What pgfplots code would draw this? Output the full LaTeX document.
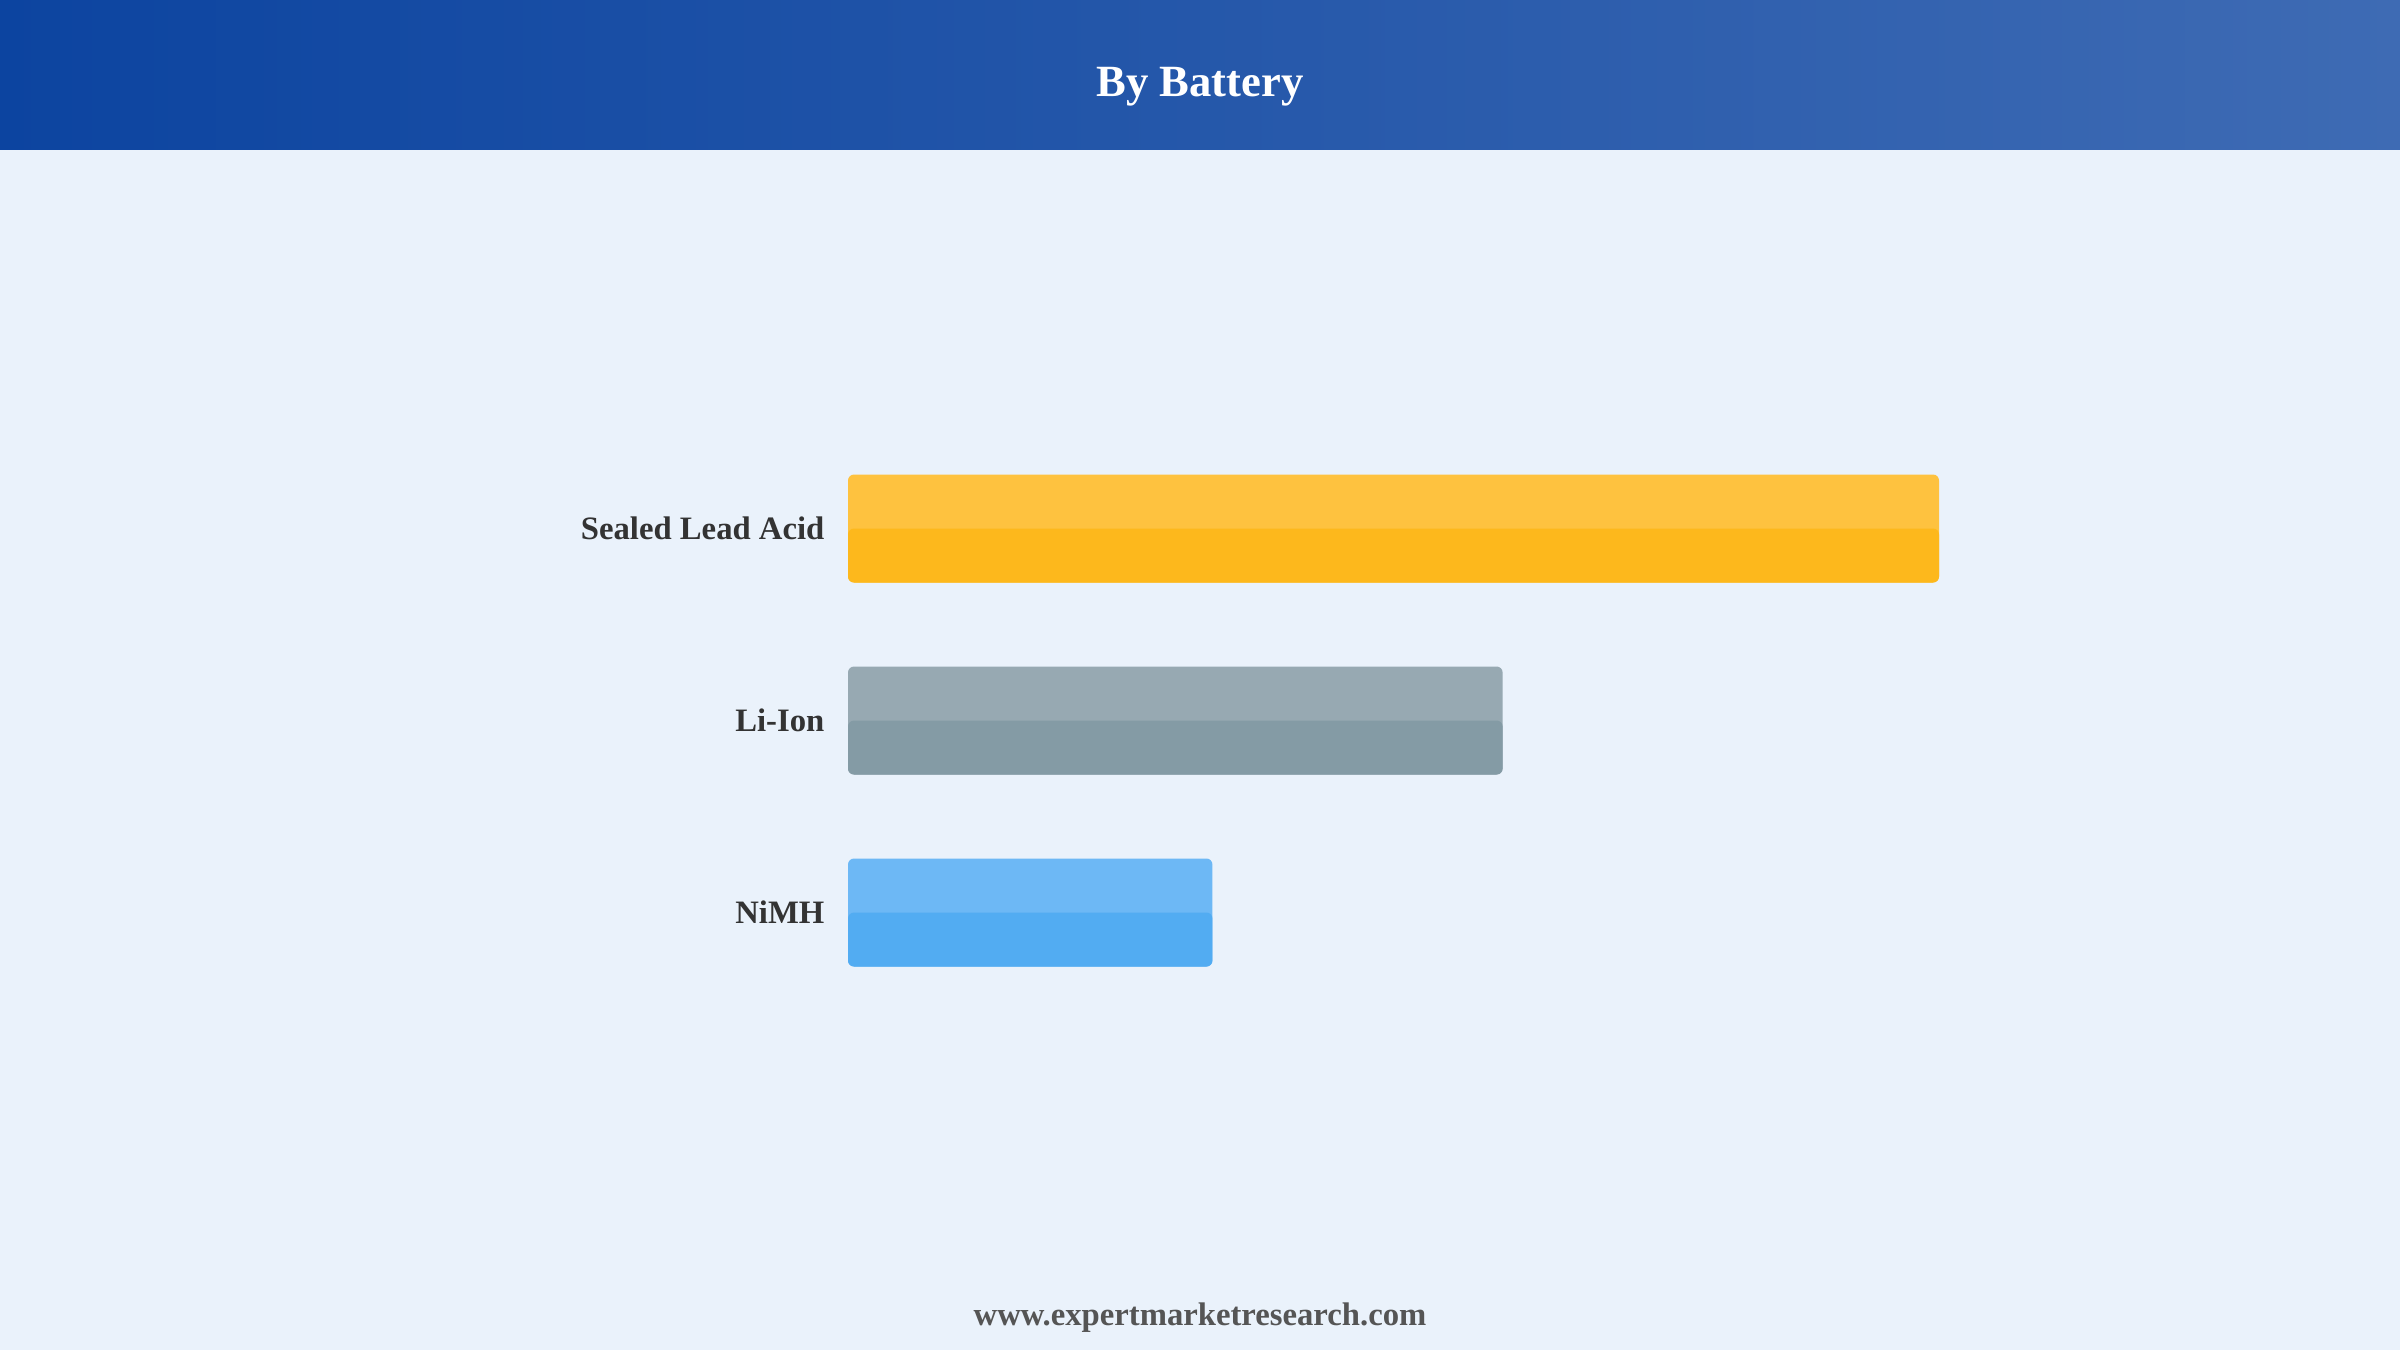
\documentclass[border=0pt]{standalone}
\usepackage{pgfplots}
\pgfplotsset{compat=1.18}
\usepackage{fontspec}
\setmainfont{Liberation Serif}
\definecolor{bgc}{HTML}{EAF2FB}
\definecolor{hdl}{HTML}{0C44A0}
\definecolor{hdr}{HTML}{3E6BB4}
\definecolor{ylt}{HTML}{FEC23F}
\definecolor{ydk}{HTML}{FDB81C}
\definecolor{glt}{HTML}{97A9B2}
\definecolor{gdk}{HTML}{849BA5}
\definecolor{blt}{HTML}{6DB8F5}
\definecolor{bdk}{HTML}{52ACF2}
\definecolor{lbl}{HTML}{333333}
\definecolor{ftc}{HTML}{555555}
\begin{document}
\begin{tikzpicture}
\fill[bgc] (0,0) rectangle (24,13.5);
\shade[left color=hdl, right color=hdr] (0,12.0) rectangle (24,13.5);
\node[text=white, font=\fontsize{12.7}{14}\selectfont\bfseries] at (12,12.63) {By Battery};
\node[text=ftc, font=\fontsize{9.3}{11}\selectfont\bfseries] at (12,0.32) {www.expertmarketresearch.com};
\begin{axis}[
  at={(8.48cm,3.415cm)}, anchor=south west,
  scale only axis, width=10.91cm, height=5.76cm,
  xmin=0, xmax=100, ymin=-0.5, ymax=2.5,
  axis line style={draw=none}, tick style={draw=none},
  xtick=\empty,
  ytick={0,1,2}, yticklabels={NiMH,Li-Ion,Sealed Lead Acid},
  yticklabel style={anchor=east, inner sep=0pt, xshift=-0.08cm, text=lbl, font=\fontsize{9.3}{11}\selectfont\bfseries},
  xbar, bar shift=0pt,
  every axis plot/.append style={draw=none, rounded corners=1.7pt},
  clip=false,
]
% full bars (lighter top colour)
\addplot[fill=ylt, bar width=1.08cm] coordinates {(100,2)};
\addplot[fill=glt, bar width=1.08cm] coordinates {(60,1)};
\addplot[fill=blt, bar width=1.08cm] coordinates {(33.4,0)};
% lower halves (darker)
\addplot[fill=ydk, bar width=0.54cm] coordinates {(100,1.859375)};
\addplot[fill=gdk, bar width=0.54cm] coordinates {(60,0.859375)};
\addplot[fill=bdk, bar width=0.54cm] coordinates {(33.4,-0.140625)};
\end{axis}
\end{tikzpicture}
\end{document}
